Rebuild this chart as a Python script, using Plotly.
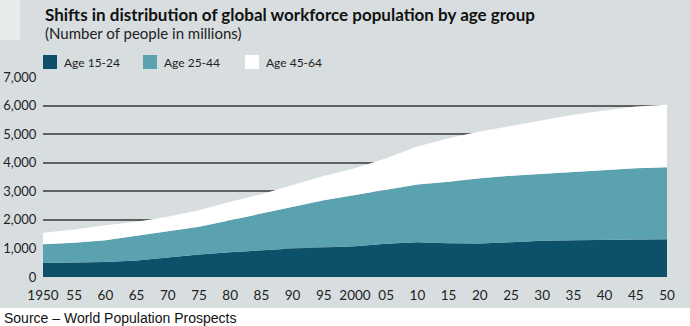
import plotly.graph_objects as go

years = [1950, 1955, 1960, 1965, 1970, 1975, 1980, 1985, 1990, 1995, 2000,
         2005, 2010, 2015, 2020, 2025, 2030, 2035, 2040, 2045, 2050]
age_15_24 = [490, 500, 525, 580, 690, 790, 870, 935, 995, 1030, 1075,
             1160, 1220, 1180, 1170, 1220, 1270, 1290, 1305, 1310, 1320]
age_25_44 = [660, 695, 765, 860, 890, 965, 1120, 1290, 1465, 1660, 1795,
             1905, 2020, 2155, 2285, 2325, 2345, 2395, 2440, 2495, 2520]
age_45_64 = [395, 465, 525, 490, 525, 585, 645, 675, 760, 845, 935,
             1090, 1325, 1525, 1635, 1745, 1885, 1990, 2085, 2165, 2185]

series = [("Age 15-24", age_15_24, "#0c5069"),
          ("Age 25-44", age_25_44, "#5ba2b1"),
          ("Age 45-64", age_45_64, "#ffffff")]

x_tickvals = list(range(1950, 2051, 5))
x_ticktext = ["1950", "55", "60", "65", "70", "75", "80", "85", "90", "95", "2000",
              "05", "10", "15", "20", "25", "30", "35", "40", "45", "50"]
y_tickvals = [0, 1000, 2000, 3000, 4000, 5000, 6000, 7000]
y_ticktext = ["0", "1,000", "2,000", "3,000", "4,000", "5,000", "6,000", "7,000"]

BG = "#d8dee0"
FONT = "Lato"

fig = go.Figure()
for name, vals, col in series:
    fig.add_trace(go.Scatter(x=years, y=vals, name=name, stackgroup="one",
                             mode="lines", line=dict(width=0, color=col),
                             fillcolor=col, showlegend=False, hoverinfo="x+y+name"))

# legend swatches and labels
leg_x = [43, 143, 245]
for (name, vals, col), lx in zip(series, leg_x):
    fig.add_shape(type="rect", xref="paper", yref="paper",
                  x0=(lx - 43) / 624, x1=(lx - 43 + 14) / 624,
                  y0=(277 - 69) / 200, y1=(277 - 55) / 200,
                  fillcolor=col, line=dict(width=0), layer="above")
    fig.add_annotation(xref="paper", yref="paper", x=(lx - 43 + 19) / 624,
                       y=(277 - 62) / 200, xanchor="left", yanchor="middle",
                       text=name, showarrow=False,
                       font=dict(family=FONT, size=12, color="#222222"))

# bottom white strip and top-left light box
fig.add_shape(type="rect", xref="paper", yref="paper",
              x0=-43 / 624, x1=690 / 624,
              y0=(277 - 330) / 200, y1=(277 - 308) / 200,
              fillcolor="#ffffff", line=dict(width=0), layer="below")
fig.add_shape(type="rect", xref="paper", yref="paper",
              x0=-43 / 624, x1=-23 / 624,
              y0=(277 - 40) / 200, y1=1.5,
              fillcolor="#e6ebec", line=dict(width=0), layer="below")

fig.add_annotation(xref="paper", yref="paper", x=0, y=(277 - 15) / 200,
                   xanchor="left", yanchor="middle", showarrow=False,
                   text="<b>Shifts in distribution of global workforce population by age group</b>",
                   font=dict(family=FONT, size=17, color="#111111"))
fig.add_annotation(xref="paper", yref="paper", x=0, y=(277 - 33) / 200,
                   xanchor="left", yanchor="middle", showarrow=False,
                   text="(Number of people in millions)",
                   font=dict(family=FONT, size=15, color="#222222"))
fig.add_annotation(xref="paper", yref="paper", x=-41 / 624, y=(277 - 318) / 200,
                   xanchor="left", yanchor="middle", showarrow=False,
                   text="Source \u2013 World Population Prospects",
                   font=dict(family="Liberation Sans", size=14, color="#111111"))

fig.update_layout(
    width=690, height=326,
    margin=dict(l=43, r=23, t=77, b=49, pad=0, autoexpand=False),
    paper_bgcolor=BG, plot_bgcolor=BG,
    showlegend=False,
    xaxis=dict(range=[1950, 2050], tickvals=x_tickvals, ticktext=x_ticktext,
               showgrid=False, zeroline=False, showline=False, automargin=False,
               ticks="outside", ticklen=6, tickcolor=BG,
               tickfont=dict(family=FONT, size=13.5, color="#222222")),
    yaxis=dict(range=[0, 7000], tickvals=y_tickvals, ticktext=y_ticktext,
               showgrid=True, gridcolor="#606060", gridwidth=1.5,
               zeroline=False, showline=False, automargin=False,
               ticks="outside", ticklen=3, tickcolor=BG,
               tickfont=dict(family=FONT, size=13, color="#222222")),
)

fig.write_html("out.html")
